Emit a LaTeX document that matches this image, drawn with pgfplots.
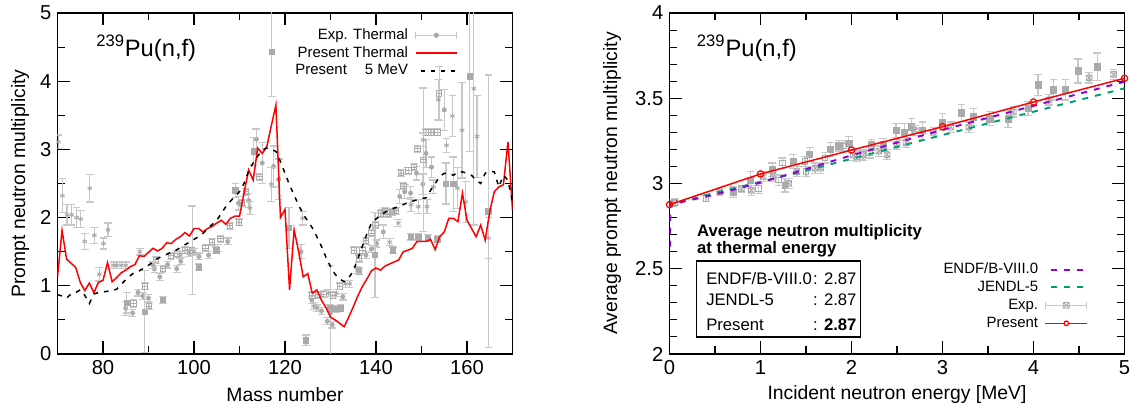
\documentclass[border=0pt]{standalone}
\usepackage{fontspec}
\setmainfont{Liberation Sans}
\usepackage{pgfplots}
\pgfplotsset{compat=1.18}
\usepackage{pgfplotstable}

\definecolor{expgray}{RGB}{170,170,170}
\definecolor{errgray}{RGB}{200,200,200}
\definecolor{endfc}{RGB}{148,0,211}
\definecolor{jendlc}{RGB}{0,158,115}
\definecolor{pred}{RGB}{255,0,0}

\pgfdeclareplotmark{sqminus}{%
  \pgfpathrectangle{\pgfqpoint{-\pgfplotmarksize}{-\pgfplotmarksize}}{\pgfqpoint{2\pgfplotmarksize}{2\pgfplotmarksize}}%
  \pgfpathmoveto{\pgfqpoint{-\pgfplotmarksize}{0pt}}%
  \pgfpathlineto{\pgfqpoint{\pgfplotmarksize}{0pt}}%
  \pgfusepathqstroke}
\pgfdeclareplotmark{sqtimes}{%
  \pgfpathrectangle{\pgfqpoint{-\pgfplotmarksize}{-\pgfplotmarksize}}{\pgfqpoint{2\pgfplotmarksize}{2\pgfplotmarksize}}%
  \pgfpathmoveto{\pgfqpoint{-\pgfplotmarksize}{-\pgfplotmarksize}}%
  \pgfpathlineto{\pgfqpoint{\pgfplotmarksize}{\pgfplotmarksize}}%
  \pgfpathmoveto{\pgfqpoint{-\pgfplotmarksize}{\pgfplotmarksize}}%
  \pgfpathlineto{\pgfqpoint{\pgfplotmarksize}{-\pgfplotmarksize}}%
  \pgfusepathqstroke}

\pgfplotsset{
  myaxis/.style={scale only axis, width=9.1cm, height=6.82cm,
    tick align=inside, major tick length=0.25cm, minor tick length=0.15cm,
    axis line style={line width=0.8pt},
    every tick/.style={black, line width=0.6pt},
    tick label style={font=\fontsize{11.5}{13}\selectfont},
    label style={font=\fontsize{11}{13}\selectfont},
    /pgf/number format/assume math mode=true,
    clip mode=individual, legend plot pos=right, legend cell align=right},
  experr/.style={only marks, forget plot,
    /pgfplots/error bars/y dir=both, /pgfplots/error bars/y explicit,
    /pgfplots/error bars/error bar style={errgray, line width=0.7pt},
    /pgfplots/error bars/error mark options={errgray, rotate=90, mark size=2.2pt, line width=0.7pt}},
}

% ---------------- left panel data ----------------
\pgfplotstableread{
x y
70 1.13
71 1.81
72 1.39
73 1.33
74 1.27
75 1.05
76 0.93
77 1.04
78 0.90
79 1.05
80 1.08
81 1.34
82 1.06
83 1.12
84 1.19
85 1.23
86 1.28
87 1.31
88 1.44
89 1.43
90 1.49
91 1.55
92 1.51
93 1.55
94 1.63
95 1.62
96 1.68
97 1.72
98 1.78
99 1.73
100 1.84
101 1.84
102 1.79
103 1.84
104 1.87
105 1.92
106 1.96
107 1.90
108 1.99
109 2.02
110 2.02
111 2.36
112 2.70
113 2.55
114 3.02
115 2.94
116 3.04
117 3.35
118 3.65
119 2.00
120 2.12
121 0.94
122 1.82
123 1.50
124 1.13
125 1.18
126 0.89
127 0.94
128 0.79
129 0.68
130 0.54
131 0.50
132 0.45
133 0.40
134 0.54
135 0.69
136 0.85
137 0.99
138 1.10
139 1.22
140 1.26
141 1.23
142 1.29
143 1.32
144 1.35
145 1.38
146 1.50
147 1.52
148 1.55
149 1.65
150 1.65
151 1.65
152 1.68
153 1.53
154 1.72
155 1.79
156 1.99
157 1.99
158 1.94
159 2.36
160 1.96
161 1.84
162 1.72
163 1.89
164 1.67
165 2.09
166 2.38
167 2.45
168 2.48
169 3.11
170 2.11
}\presentT

\pgfplotstableread{
x y
70 0.87
71 0.85
72 0.82
73 0.88
74 0.90
75 0.94
76 0.86
77 0.74
78 0.88
79 0.90
80 0.91
81 0.92
82 0.93
83 0.95
84 1.02
85 1.09
86 1.15
87 1.20
88 1.22
89 1.26
90 1.30
91 1.35
92 1.40
93 1.43
94 1.46
95 1.49
96 1.52
97 1.56
98 1.60
99 1.64
100 1.68
101 1.72
102 1.77
103 1.84
104 1.90
105 1.96
106 2.06
107 2.16
108 2.24
109 2.31
110 2.38
111 2.50
112 2.68
113 2.80
114 2.90
115 2.99
116 3.02
117 3.00
118 2.97
119 2.82
120 2.65
121 2.48
122 2.33
123 2.18
124 2.05
125 1.95
126 1.85
127 1.72
128 1.58
129 1.42
130 1.28
131 1.17
132 1.10
133 1.06
134 1.12
135 1.21
136 1.40
137 1.58
138 1.76
139 1.92
140 1.98
141 2.03
142 2.08
143 2.11
144 2.14
145 2.16
146 2.19
147 2.22
148 2.24
149 2.26
150 2.28
151 2.29
152 2.40
153 2.50
154 2.60
155 2.65
156 2.65
157 2.62
158 2.67
159 2.67
160 2.65
161 2.62
162 2.55
163 2.50
164 2.65
165 2.68
166 2.67
167 2.45
168 2.62
169 2.55
170 2.23
}\presentF

\pgfplotstableread{
x y e
85.0 0.67 0.10
86.5 0.60 0.05
87.7 0.90 0.05
88.8 0.85 0.05
90.0 0.82 0.05
91.3 1.25 0.05
92.5 1.13 0.05
94.2 1.31 0.05
96.2 1.25 0.05
97.1 1.36 0.05
98.9 1.48 0.05
101.1 1.43 0.05
103.2 1.45 0.05
105.2 1.55 0.05
107.4 1.65 0.05
109.8 2.21 0.10
112.0 2.25 0.10
113.7 3.15 0.15
115.0 2.80 0.30
117.5 2.75 0.30
118.6 2.56 0.30
123.5 1.50 0.10
125.9 0.79 0.05
127.0 0.67 0.05
128.0 0.63 0.05
129.3 0.48 0.05
130.0 0.60 0.70
130.4 0.43 0.05
132.7 0.84 0.05
137.8 1.45 0.05
139.0 1.54 0.05
140.1 1.62 0.05
141.6 1.79 0.10
145.2 2.31 0.10
146.3 2.38 0.10
147.6 2.36 0.10
148.9 2.65 0.10
150.3 2.49 0.15
151.0 2.94 0.20
152.2 2.74 0.15
155.0 3.58 0.30
}\expCirc

\pgfplotstableread{
x y e
85.2 0.75 0.15
89.2 0.62 0.60
93.2 0.79 0.05
101.0 1.27 0.05
104.9 1.52 0.05
109.1 2.40 0.10
113.1 2.97 0.20
117.1 4.43 0.66
120.9 1.85 0.30
124.6 0.20 0.08
129.9 0.67 0.05
131.2 0.66 0.05
132.2 0.67 0.05
136.2 1.21 0.05
139.8 1.45 0.62
143.7 1.52 0.05
147.7 1.72 0.05
149.3 1.72 0.05
151.4 1.70 0.05
153.5 1.68 0.05
155.4 2.50 0.30
157.0 2.49 0.40
160.6 4.07 1.10
164.7 2.09 2.00
}\expSq

\pgfplotstableread{
x y e
86.7 0.74 0.05
89.2 0.99 0.05
90.1 0.70 0.05
91.6 1.38 0.05
93.1 1.25 0.05
94.9 1.44 0.05
96.3 1.47 0.05
98.0 1.52 0.05
99.6 1.52 0.65
102.5 1.55 0.05
104.0 1.64 0.05
105.8 1.69 0.05
107.9 1.88 0.05
109.9 1.93 0.05
110.5 2.22 0.05
111.4 2.38 0.05
114.4 2.60 0.05
126.0 0.86 0.05
127.2 0.87 0.05
128.5 0.88 0.05
130.5 0.86 0.05
132.0 0.99 0.05
135.2 1.52 0.05
136.3 1.40 0.05
137.0 1.52 0.05
137.8 1.66 0.05
139.0 1.77 0.05
139.9 1.89 0.05
141.1 2.06 0.05
141.9 2.09 0.05
142.6 2.06 0.05
143.5 2.08 0.05
144.4 2.10 0.05
145.5 2.65 0.05
146.0 2.46 0.05
147.1 2.69 0.05
148.4 2.74 0.05
149.1 3.01 0.05
150.4 2.85 1.05
151.0 3.25 0.05
152.1 3.25 0.05
153.5 3.25 0.05
153.9 3.82 0.40
}\expOsq

\pgfplotstableread{
x y e
70.2 3.11 0.10
71.1 2.32 0.25
72.1 2.04 0.15
73.1 2.04 0.15
74.2 2.00 0.15
75.1 1.98 0.12
76.0 1.65 0.12
77.1 2.43 0.20
78.1 1.74 0.12
79.2 1.17 0.10
80.1 1.62 0.08
81.1 1.82 0.10
82.3 1.30 0.05
83.0 1.30 0.05
84.0 1.30 0.05
85.0 1.30 0.05
88.1 1.50 0.05
91.0 1.30 0.05
97.0 1.45 0.05
100.0 1.50 0.05
112.3 2.14 0.10
117.0 2.49 0.25
123.9 1.99 0.10
126.3 0.70 0.05
129.5 0.89 0.05
131.3 0.89 0.05
133.3 1.03 0.05
134.2 1.03 0.05
135.9 1.23 0.05
143.0 1.64 0.05
144.9 1.92 0.05
147.7 2.19 0.10
149.3 2.16 0.10
150.4 3.14 0.10
151.2 2.16 0.10
152.6 2.45 0.10
153.7 3.73 0.30
155.5 3.06 0.10
156.8 3.49 0.30
157.9 2.43 0.30
158.9 3.28 0.70
159.7 2.23 0.30
161.5 3.89 2.00
162.2 3.19 0.60
164.7 1.70 0.30
}\expAst

% ---------------- right panel data ----------------
\pgfplotstableread{
x y
0 2.876
1 3.056
2 3.196
3 3.333
4 3.478
5 3.617
}\presentE

\pgfplotstableread{
x y
0.006 2.63
0.006 2.876
0.5 2.935
1 3.005
1.5 3.085
2 3.165
3 3.315
4 3.455
5 3.597
}\endf

\pgfplotstableread{
x y
0.006 2.78
0.006 2.877
0.5 2.945
1 3.010
1.5 3.075
2 3.145
3 3.284
4 3.421
5 3.558
}\jendl

\pgfplotstableread{
x y e
0.70 2.95 0.03
0.89 3.02 0.05
1.13 3.08 0.04
1.27 2.99 0.04
1.36 3.13 0.04
1.54 3.17 0.04
1.77 3.20 0.04
1.86 3.22 0.03
1.97 3.235 0.04
2.22 3.226 0.03
2.35 3.226 0.04
2.49 3.31 0.04
2.58 3.30 0.05
2.66 3.333 0.05
2.78 3.31 0.05
3.00 3.36 0.05
3.21 3.415 0.05
3.34 3.39 0.05
3.52 3.38 0.04
3.72 3.38 0.05
3.94 3.44 0.04
4.05 3.578 0.06
4.22 3.55 0.06
4.35 3.55 0.06
4.49 3.66 0.07
4.70 3.685 0.08
}\eSq

\pgfplotstableread{
x y e
0.04 2.884 0.02
0.55 2.95 0.02
0.79 2.97 0.02
0.90 2.96 0.03
1.03 3.04 0.03
1.14 3.04 0.03
1.31 3.00 0.03
1.40 3.07 0.03
1.60 3.09 0.03
1.66 3.09 0.03
2.02 3.167 0.03
2.13 3.167 0.03
2.30 3.19 0.03
2.39 3.17 0.03
2.50 3.23 0.03
2.60 3.24 0.03
2.70 3.31 0.03
2.90 3.30 0.03
3.09 3.33 0.03
3.29 3.33 0.03
3.78 3.42 0.03
4.17 3.49 0.03
4.61 3.62 0.03
4.88 3.64 0.03
}\eSqx

\pgfplotstableread{
x y e
0.06 2.89 0.02
0.40 2.913 0.02
0.98 2.97 0.03
1.20 3.02 0.03
1.24 3.12 0.03
1.49 3.13 0.03
1.50 3.07 0.03
1.71 3.15 0.03
1.91 3.22 0.03
2.06 3.16 0.03
2.12 3.17 0.03
2.20 3.18 0.03
}\eOsq

\begin{document}
\begin{tikzpicture}
\useasboundingbox (0,0) rectangle (22.78cm,8.24cm);

% ================= LEFT =================
\begin{axis}[myaxis, at={(1.15cm,1.16cm)}, anchor=south west,
  xmin=70, xmax=170, ymin=0, ymax=5,
  xtick={80,100,...,160}, minor xtick={90,110,...,150},
  ytick={0,1,...,5}, minor ytick={0.5,1.5,...,4.5},
  xlabel={Mass number}, ylabel={Prompt neutron multiplicity},
  xlabel style={at={(axis description cs:0.5,-0.12)}, anchor=center},
  ylabel style={at={(axis description cs:-0.082,0.5)}, anchor=center},
  legend style={at={(rel axis cs:0.88,0.962)}, anchor=north east, draw=none, fill=none,
    font=\fontsize{8.5}{10}\selectfont, inner sep=0pt, column sep=3pt, row sep=0pt,
    nodes={inner sep=1pt, text height=6.3pt, text depth=1.9pt}},
]
\addplot+[experr, mark=*, mark size=1.2pt, mark options={expgray, fill=expgray}] table[x=x,y=y,y error=e] {\expCirc};
\addplot+[experr, mark=square*, mark size=1.5pt, mark options={expgray, fill=expgray}] table[x=x,y=y,y error=e] {\expSq};
\addplot+[experr, mark=sqminus, mark size=1.5pt, mark options={expgray, line width=0.5pt}] table[x=x,y=y,y error=e] {\expOsq};
\addplot+[experr, mark=asterisk, mark size=1.5pt, mark options={expgray, line width=0.5pt}] table[x=x,y=y,y error=e] {\expAst};
\addplot[forget plot, pred, line width=0.85pt] table[x=x,y=y] {\presentT};
\addplot[forget plot, black, line width=0.85pt, dash pattern=on 2.6pt off 3.4pt] table[x=x,y=y] {\presentF};

\addlegendimage{legend image code/.code={
  \draw[errgray,line width=0.7pt] (0cm,0cm) -- (0.82cm,0cm) (0cm,-2pt) -- (0cm,2pt) (0.82cm,-2pt) -- (0.82cm,2pt);
  \fill[expgray] (0.41cm,0cm) circle (1.3pt);}}
\addlegendentry{Exp. Thermal}
\addlegendimage{legend image code/.code={\draw[pred,line width=0.85pt] (0cm,0cm) -- (0.82cm,0cm);}}
\addlegendentry{Present Thermal}
\addlegendimage{legend image code/.code={\draw[black,line width=0.85pt,dash pattern=on 2.2pt off 3.6pt] (0.1cm,0cm) -- (0.82cm,0cm);}}
\addlegendentry{Present\hspace{1.2em}5 MeV}

\node[font=\fontsize{13.5}{15}\selectfont] at (rel axis cs:0.195,0.897) {\textsuperscript{239}Pu(n,f)};
\end{axis}

% ================= RIGHT =================
\begin{axis}[myaxis, at={(13.39cm,1.16cm)}, anchor=south west,
  xmin=0, xmax=5, ymin=2, ymax=4,
  xtick={0,1,...,5}, minor xtick={0.5,1.5,...,4.5},
  ytick={2,2.5,...,4}, minor ytick={2.1,2.2,2.3,2.4,2.6,2.7,2.8,2.9,3.1,3.2,3.3,3.4,3.6,3.7,3.8,3.9},
  xlabel={Incident neutron energy [MeV]}, ylabel={Average prompt neutron multiplicity},
  xlabel style={at={(axis description cs:0.5,-0.12)}, anchor=center},
  ylabel style={at={(axis description cs:-0.126,0.5)}, anchor=center},
  legend style={at={(rel axis cs:0.92,0.275)}, anchor=north east, draw=none, fill=none,
    font=\fontsize{8.5}{10}\selectfont, inner sep=0pt, column sep=3pt, row sep=0pt,
    nodes={inner sep=1pt, text height=6.3pt, text depth=1.9pt}},
]
\addplot+[experr, mark=square*, mark size=1.8pt, mark options={expgray, fill=expgray}] table[x=x,y=y,y error=e] {\eSq};
\addplot+[experr, mark=sqtimes, mark size=1.6pt, mark options={expgray, line width=0.5pt}] table[x=x,y=y,y error=e] {\eSqx};
\addplot+[experr, mark=square, mark size=1.6pt, mark options={expgray, line width=0.5pt}] table[x=x,y=y,y error=e] {\eOsq};
\addplot[forget plot, jendlc, line width=1.1pt, dash pattern=on 3.4pt off 4pt] table[x=x,y=y] {\jendl};
\addplot[forget plot, endfc, line width=1.1pt, dash pattern=on 3.4pt off 4pt] table[x=x,y=y] {\endf};
\addplot[forget plot, pred, line width=0.85pt, mark=o, mark size=1.8pt, mark options={pred, line width=0.7pt}] table[x=x,y=y] {\presentE};

\addlegendimage{legend image code/.code={\draw[endfc,line width=1.1pt,dash pattern=on 3.4pt off 4pt] (0.1cm,0cm) -- (0.82cm,0cm);}}
\addlegendentry{ENDF/B-VIII.0}
\addlegendimage{legend image code/.code={\draw[jendlc,line width=1.1pt,dash pattern=on 3.4pt off 4pt] (0.1cm,0cm) -- (0.82cm,0cm);}}
\addlegendentry{JENDL-5}
\addlegendimage{legend image code/.code={
  \draw[errgray,line width=0.7pt] (0cm,0cm) -- (0.82cm,0cm) (0cm,-2pt) -- (0cm,2pt) (0.82cm,-2pt) -- (0.82cm,2pt);
  \draw[expgray,line width=0.5pt] (0.35cm,-1.6pt) rectangle (0.47cm,1.6pt) (0.35cm,-1.6pt) -- (0.47cm,1.6pt) (0.35cm,1.6pt) -- (0.47cm,-1.6pt);}}
\addlegendentry{Exp.}
\addlegendimage{legend image code/.code={%
  \filldraw[draw=pred, fill=pred, line width=0.4pt] (0cm,-0.22pt) rectangle (0.82cm,0.22pt);
  \draw[pred,line width=0.7pt,fill=white] (0.41cm,0cm) circle (1.3pt);}}
\addlegendentry{Present}

\node[font=\fontsize{13.5}{15}\selectfont] at (rel axis cs:0.17,0.897) {\textsuperscript{239}Pu(n,f)};
\node[anchor=base west, inner sep=0pt, font=\bfseries\fontsize{9.5}{11}\selectfont] at (rel axis cs:0.060,0.344) {Average neutron multiplicity};
\node[anchor=base west, inner sep=0pt, font=\bfseries\fontsize{9.5}{11}\selectfont] at (rel axis cs:0.060,0.295) {at thermal energy};
\draw[line width=0.7pt] (rel axis cs:0.060,0.273) rectangle (rel axis cs:0.419,0.050);
\node[anchor=base west, inner sep=0pt, font=\fontsize{9.5}{11}\selectfont] at (rel axis cs:0.080,0.205) {ENDF/B-VIII.0};
\node[anchor=base west, inner sep=0pt, font=\fontsize{9.5}{11}\selectfont] at (rel axis cs:0.315,0.205) {: 2.87};
\node[anchor=base west, inner sep=0pt, font=\fontsize{9.5}{11}\selectfont] at (rel axis cs:0.080,0.141) {JENDL-5};
\node[anchor=base west, inner sep=0pt, font=\fontsize{9.5}{11}\selectfont] at (rel axis cs:0.315,0.141) {: 2.87};
\node[anchor=base west, inner sep=0pt, font=\fontsize{9.5}{11}\selectfont] at (rel axis cs:0.080,0.070) {Present};
\node[anchor=base west, inner sep=0pt, font=\fontsize{9.5}{11}\selectfont] at (rel axis cs:0.315,0.070) {: \textbf{2.87}};
\end{axis}
\end{tikzpicture}
\end{document}
